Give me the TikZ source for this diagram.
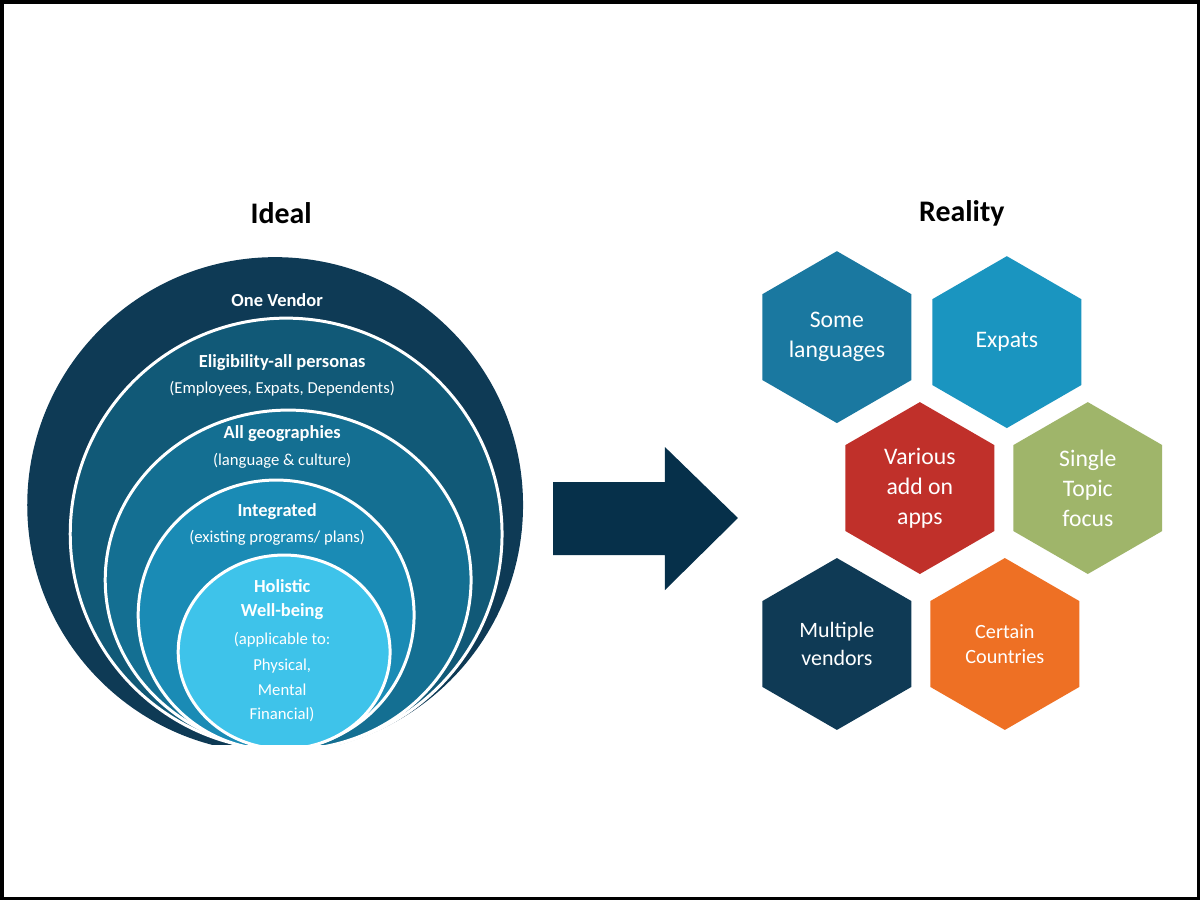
\documentclass[tikz,border=0pt]{standalone}
\usepackage{fontspec}
\setmainfont{Carlito}
\usetikzlibrary{shapes.geometric}
\definecolor{c1}{HTML}{0E3A55}
\definecolor{c2}{HTML}{115977}
\definecolor{c3}{HTML}{146F92}
\definecolor{c4}{HTML}{1A8BB5}
\definecolor{c5}{HTML}{3EC3EA}
\definecolor{arr}{HTML}{06304A}
\definecolor{hA}{HTML}{1A78A0}
\definecolor{hB}{HTML}{1A95C0}
\definecolor{hC}{HTML}{C0302A}
\definecolor{hD}{HTML}{9FB56A}
\definecolor{hE}{HTML}{0F3A55}
\definecolor{hF}{HTML}{EE7024}
\begin{document}
\begin{tikzpicture}[x=0.02cm,y=-0.02cm,
  ring/.style={draw=white,line width=1.7pt},
  lab/.style={text=white,font=\fontsize{10.5}{12}\selectfont\bfseries,inner sep=0},
  sub/.style={text=white,font=\fontsize{9.5}{12}\selectfont,inner sep=0},
  title/.style={font=\fontsize{17}{20}\selectfont\bfseries,inner sep=0},
  hex/.style={regular polygon,regular polygon sides=6,shape border rotate=30,minimum size=3.44cm,inner sep=0,text=white,align=center,font=\fontsize{13.5}{17}\selectfont}]
\fill[white] (0,0) rectangle (1200,900);
\draw[black,line width=2pt] (1.5,1.5) rectangle (1198.5,898.5);
\node[title] (ideal) at (281,213) {Ideal};
\node[title] (real) at (962,213) {Reality};
\begin{scope}
\clip (0,0) rectangle (1200,745);
\fill[c1] (275,505) ellipse [x radius=248,y radius=248];
\filldraw[fill=c2,ring] (286,534) ellipse [x radius=216,y radius=216];
\filldraw[fill=c3,ring] (288,580) ellipse [x radius=183,y radius=170];
\filldraw[fill=c4,ring] (276,615) ellipse [x radius=138,y radius=135];
\filldraw[fill=c5,ring] (284,652) ellipse [x radius=106,y radius=97];
\end{scope}
\node[lab] (t1) at (277,300) {One Vendor};
\node[lab] (t2) at (282,362) {Eligibility-all personas};
\node[sub] (t2b) at (282,389) {(Employees, Expats, Dependents)};
\node[lab] (t3) at (282,434) {All geographies};
\node[sub] (t3b) at (282,461) {(language \& culture)};
\node[lab] (t4) at (277,512) {Integrated};
\node[sub] (t4b) at (277,538) {(existing programs/ plans)};
\node[lab] (t5) at (282,586) {Holistic};
\node[lab] (t5b) at (282,612) {Well-being};
\node[sub] (t5c) at (282,640) {(applicable to:};
\node[sub] (t5d) at (282,666) {Physical,};
\node[sub] (t5e) at (282,690) {Mental};
\node[sub] (t5f) at (282,715) {Financial)};
\fill[arr] (553,482) -- (665,482) -- (665,447) -- (738,518) -- (665,590) -- (665,555) -- (553,555) -- cycle;
\node[hex,fill=hA] (h1) at (837,337) {Some\\languages};
\node[hex,fill=hB] (h2) at (1007,342) {Expats};
\node[hex,fill=hC] (h3) at (920,488) {Various\\add on\\apps};
\node[hex,fill=hD] (h4) at (1088,488) {Single\\Topic\\focus};
\node[hex,fill=hE,font=\fontsize{12.5}{15.5}\selectfont] (h5) at (837,644) {Multiple\\vendors};
\node[hex,fill=hF,font=\fontsize{11.5}{14.5}\selectfont] (h6) at (1005,644) {Certain\\Countries};
\end{tikzpicture}
\end{document}
